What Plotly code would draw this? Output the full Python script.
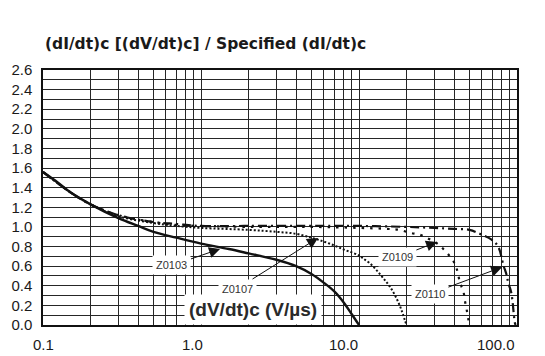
import math
import plotly.graph_objects as go

# ---- data ----
z0103_x = [0.1, 0.12, 0.15, 0.2, 0.3, 0.4, 0.5, 0.7, 1.0, 1.5, 2, 3, 4, 5, 6, 7, 8, 9, 10]
z0103_y = [1.56, 1.47, 1.35, 1.23, 1.09, 1.01, 0.95, 0.89, 0.83, 0.775, 0.73, 0.665, 0.60, 0.52, 0.43, 0.34, 0.23, 0.11, 0.0]

z0107_x = [0.1, 0.15, 0.2, 0.3, 0.5, 0.7, 1, 2, 3, 4, 5, 6, 7, 8, 9, 10, 10.6, 11.7, 12.9, 14.2, 15.7, 17.3, 18.6, 19.5, 20]
z0107_y = [1.56, 1.35, 1.23, 1.11, 1.04, 1.01, 0.99, 0.97, 0.95, 0.93, 0.89, 0.85, 0.81, 0.77, 0.74, 0.71, 0.68, 0.63, 0.56, 0.48, 0.39, 0.27, 0.15, 0.05, 0.0]

z0109_x = [0.1, 0.15, 0.2, 0.3, 0.5, 0.7, 1, 2, 5, 10, 15, 18, 21, 24.3, 27.5, 31.3, 34.4, 37.6, 40.6, 42.2, 43.6, 45.8, 46.9, 48.1, 49.3, 50]
z0109_y = [1.56, 1.35, 1.23, 1.12, 1.05, 1.02, 1.01, 1.0, 1.0, 0.99, 0.98, 0.97, 0.94, 0.92, 0.88, 0.83, 0.77, 0.70, 0.62, 0.53, 0.43, 0.34, 0.24, 0.15, 0.05, 0.0]

z0110_x = [0.1, 0.15, 0.2, 0.3, 0.5, 0.7, 1, 2, 5, 10, 20, 30, 40, 50, 60, 69, 76, 82, 86, 88, 91.7, 94, 95.3, 97, 98]
z0110_y = [1.56, 1.35, 1.23, 1.12, 1.05, 1.03, 1.01, 1.01, 1.01, 1.01, 1.0, 0.99, 0.98, 0.97, 0.92, 0.87, 0.80, 0.61, 0.51, 0.43, 0.34, 0.22, 0.12, 0.02, 0.0]

x_tick_vals = [0.1, 1.0, 10.0, 100.0]
x_tick_labels = ["0.1", "1.0", "10.0", "100.0"]
y_tick_vals = [0.0, 0.2, 0.4, 0.6, 0.8, 1.0, 1.2, 1.4, 1.6, 1.8, 2.0, 2.2, 2.4, 2.6]
y_tick_labels = ["0.0", "0.2", "0.4", "0.6", "0.8", "1.0", "1.2", "1.4", "1.6", "1.8", "2.0", "2.2", "2.4", "2.6"]

title_text = "(dI/dt)c [(dV/dt)c] / Specified (dI/dt)c"
xaxis_label = "(dV/dt)c (V/µs)"

series_names = ["Z0103", "Z0107", "Z0109", "Z0110"]
# arrow head (x, y) and label position (x, y) in data units
arrow_heads = [(1.32, 0.776), (5.5, 0.888), (31.2, 0.847), (80.4, 0.59)]
label_pos = [(0.655, 0.607), (1.70, 0.372), (17.5, 0.689), (28.1, 0.316)]

# ---- figure ----
FONT = "Liberation Sans, Arial, sans-serif"
TITLE_FONT = "DejaVu Sans, Verdana, sans-serif"
INK = "#1a1a1a"
GRID = "#262626"

fig = go.Figure()
fig.add_trace(go.Scatter(x=z0103_x, y=z0103_y, mode="lines", name="Z0103",
                         line=dict(color="#111", width=2.4), line_shape="spline"))
fig.add_trace(go.Scatter(x=z0107_x, y=z0107_y, mode="lines", name="Z0107",
                         line=dict(color="#111", width=2, dash="2px,2px"), line_shape="spline"))
fig.add_trace(go.Scatter(x=z0109_x, y=z0109_y, mode="lines", name="Z0109",
                         line=dict(color="#111", width=2.2, dash="2.5px,6px"), line_shape="spline"))
fig.add_trace(go.Scatter(x=z0110_x, y=z0110_y, mode="lines", name="Z0110",
                         line=dict(color="#111", width=2.2, dash="9px,4px,2px,4px"), line_shape="spline"))

# grid positions for the log axis (1..9 per decade)
grid_x = []
for dec in x_tick_vals[:-1]:
    for m in range(1, 10):
        grid_x.append(dec * m)
grid_x.append(x_tick_vals[-1])

grid_y = [i / 10 for i in range(0, 27)]

fig.update_layout(
    width=545, height=356,
    margin=dict(l=43, r=28, t=70, b=31),
    paper_bgcolor="white", plot_bgcolor="white",
    showlegend=False,
    font=dict(family=FONT, color=INK),
    xaxis=dict(type="log", range=[-1, 2], tickvals=grid_x, showticklabels=False,
               showgrid=True, gridcolor=GRID, gridwidth=1.1, zeroline=False,
               showline=True, linecolor="#111", linewidth=1.5, mirror=True, ticks=""),
    yaxis=dict(range=[0, 2.6], tickvals=y_tick_vals, ticktext=y_tick_labels,
               tickfont=dict(size=15, color=INK, family=FONT),
               ticklabelstandoff=6,
               showgrid=True, gridcolor=GRID, gridwidth=1.1, zeroline=False,
               minor=dict(tickvals=grid_y, showgrid=True, gridcolor=GRID, gridwidth=1.1, ticks=""),
               showline=True, linecolor="#111", linewidth=1.5, mirror=True, ticks=""),
)

annotations = []
# title
annotations.append(dict(text="<b>" + title_text + "</b>", xref="paper", yref="paper",
                        x=0, y=1.102, xanchor="left", yanchor="middle", showarrow=False,
                        font=dict(size=15.5, color=INK, family=TITLE_FONT)))
# x tick labels
x_label_shift = [0, -9, -16, -21]
for v, t, s in zip(x_tick_vals, x_tick_labels, x_label_shift):
    annotations.append(dict(text=t, xref="x", yref="paper", x=math.log10(v), y=-0.078,
                            xanchor="center", yanchor="middle", xshift=s, showarrow=False,
                            font=dict(size=15, color=INK, family=FONT)))
# axis label inside plot
annotations.append(dict(text="<b>" + xaxis_label + "</b>", xref="x", yref="y",
                        x=math.log10(2.12), y=0.153, xanchor="center", yanchor="middle",
                        showarrow=False, bgcolor="white", borderpad=4,
                        font=dict(size=19, color="#2a2a2a", family=FONT)))
# series labels with arrows
for name, (hx, hy), (lx, ly) in zip(series_names, arrow_heads, label_pos):
    annotations.append(dict(text=name, xref="x", yref="y", x=math.log10(hx), y=hy,
                            axref="x", ayref="y", ax=math.log10(lx), ay=ly,
                            showarrow=True, arrowhead=2, arrowsize=2.2, arrowwidth=1,
                            arrowcolor="#111", bgcolor="white", borderpad=3,
                            font=dict(size=11, color="#333", family=FONT)))
fig.update_layout(annotations=annotations)

fig.write_html("out.html")
